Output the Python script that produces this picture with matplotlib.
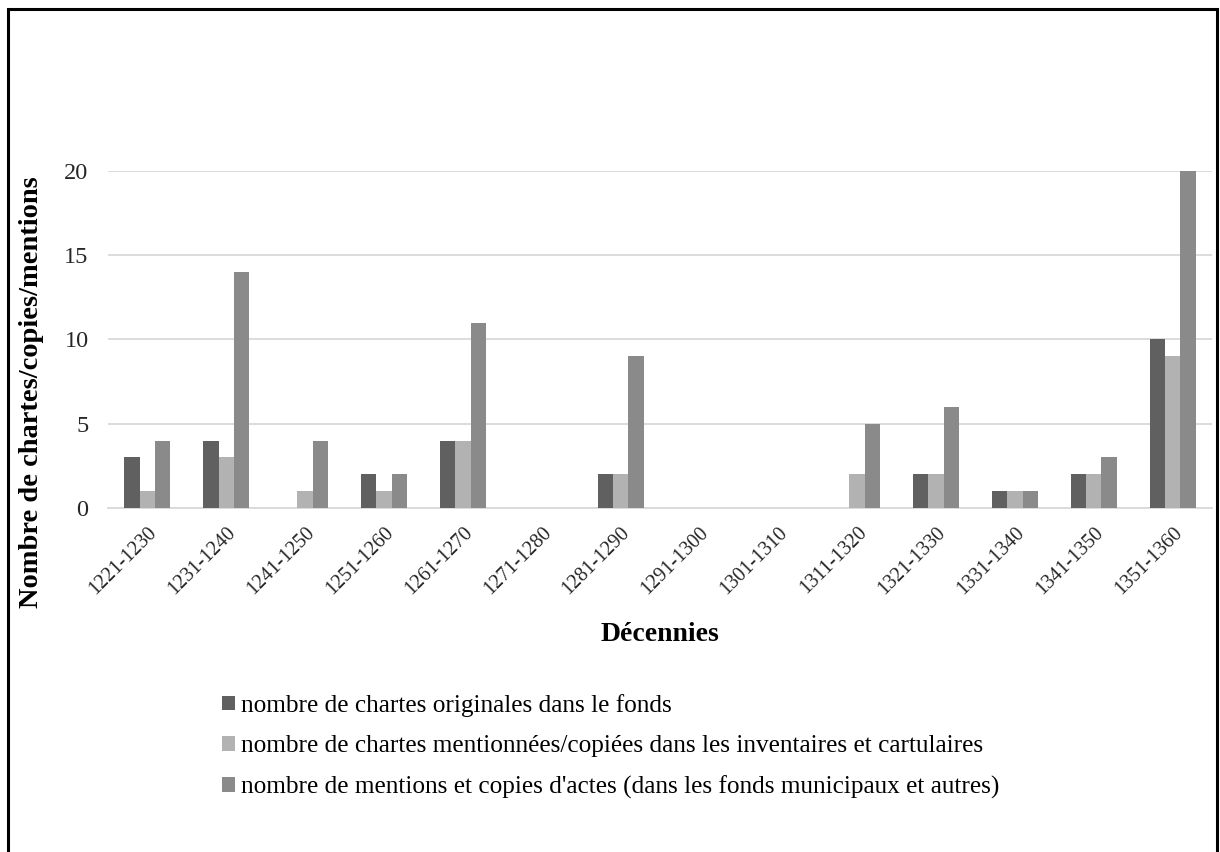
import numpy as np
import matplotlib
matplotlib.use("Agg")
import matplotlib.pyplot as plt
from matplotlib.patches import Rectangle, Patch

plt.rcParams['font.family'] = ['Liberation Serif', 'DejaVu Serif']

decennies = ['1221-1230', '1231-1240', '1241-1250', '1251-1260', '1261-1270',
             '1271-1280', '1281-1290', '1291-1300', '1301-1310', '1311-1320',
             '1321-1330', '1331-1340', '1341-1350', '1351-1360']
originales = [3, 4, 0, 2, 4, 0, 2, 0, 0, 0, 2, 1, 2, 10]
inventaires = [1, 3, 1, 1, 4, 0, 2, 0, 0, 2, 2, 1, 2, 9]
mentions = [4, 14, 4, 2, 11, 0, 9, 0, 0, 5, 6, 1, 3, 20]

labels = ["nombre de chartes originales dans le fonds",
          "nombre de chartes mentionnées/copiées dans les inventaires et cartulaires",
          "nombre de mentions et copies d'actes (dans les fonds municipaux et autres)"]
colors = ['#606060', '#b2b2b2', '#8a8a8a']

fig = plt.figure(figsize=(12.2, 8.52), dpi=100)
ax = fig.add_axes([0.0885, 0.4038, 0.905, 0.3955])

x = np.arange(len(decennies))
w = 0.195
for i, (vals, c) in enumerate(zip([originales, inventaires, mentions], colors)):
    ax.bar(x + (i - 1) * w, vals, width=w, color=c, zorder=3)

ax.set_xlim(-0.5, len(decennies) - 0.5)
ax.set_ylim(0, 20)
ax.set_yticks([0, 5, 10, 15, 20])
ax.yaxis.grid(True, color='#d9d9d9', linewidth=1.3, zorder=0)
for s in ['top', 'right', 'left']:
    ax.spines[s].set_visible(False)
ax.spines['bottom'].set_color('#d9d9d9')
ax.spines['bottom'].set_linewidth(1.3)
ax.tick_params(axis='both', length=0, colors='#262626')
ax.tick_params(axis='y', labelsize=17.5, pad=14)
ax.tick_params(axis='x', labelsize=14.5, pad=11)
ax.set_xticks(x)
ax.set_xticklabels(decennies, rotation=45, ha='right', rotation_mode='anchor')

ax.set_xlabel('Décennies', fontsize=20, fontweight='bold', labelpad=17)
fig.text(0.026, 0.54, 'Nombre de chartes/copies/mentions', rotation=90,
         fontsize=20.5, fontweight='bold', ha='center', va='center')

handles = [Patch(facecolor=c, edgecolor='none') for c in colors]
fig.legend(handles, labels, loc='upper left', bbox_to_anchor=(0.172, 0.2),
           frameon=False, fontsize=18.2, handlelength=0.5, handleheight=0.5,
           handletextpad=0.25, labelspacing=0.72, borderpad=0)

# cadre
fig.patches.append(Rectangle((8 / 1220, -0.05), 1209 / 1220, 1.05 - 9 / 852,
                             transform=fig.transFigure, fill=False,
                             edgecolor='black', linewidth=2.2))

fig.savefig('out.png', dpi=100)
